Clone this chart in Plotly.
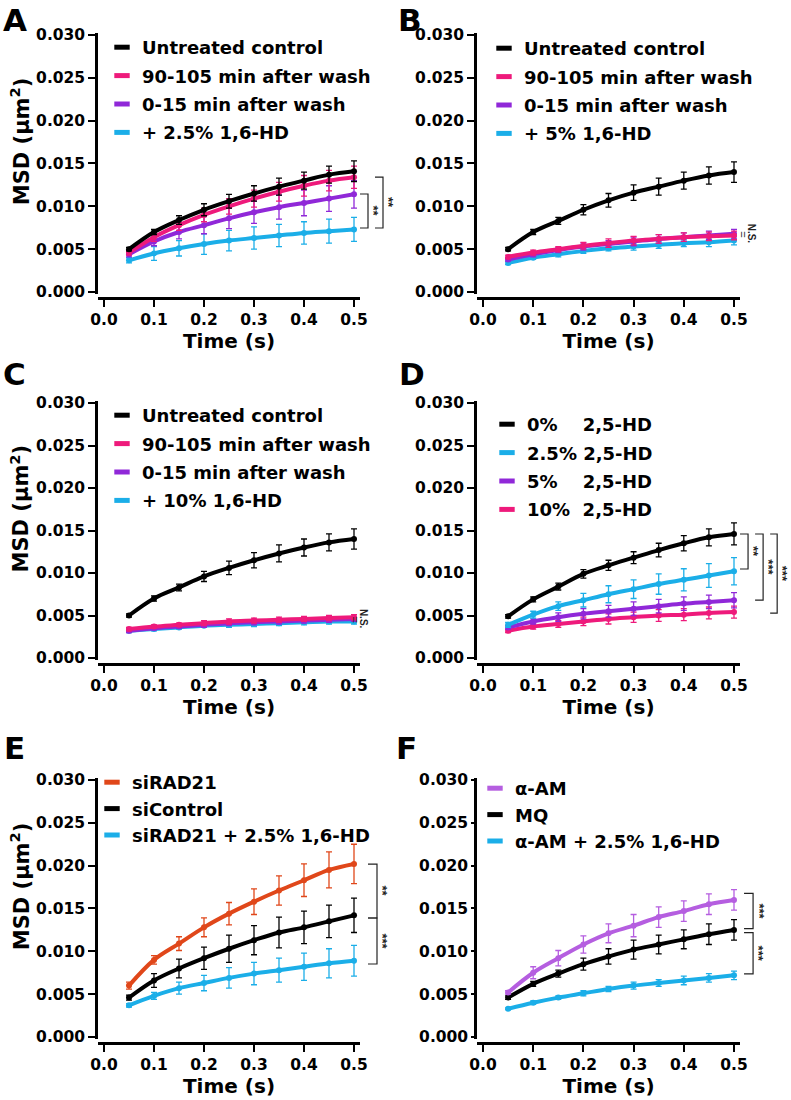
import plotly.graph_objects as go

W, H = 791, 1100
FONT = "DejaVu Sans"

# ─────────────────────────────────────────────────────────────────────────────
# DATA  (MSD in µm², mean ± error)
# ─────────────────────────────────────────────────────────────────────────────

t = [0.05, 0.10, 0.15, 0.20, 0.25, 0.30, 0.35, 0.40, 0.45, 0.50]
x_ticks = [0.0, 0.1, 0.2, 0.3, 0.4, 0.5]
y_ticks = [0.000, 0.005, 0.010, 0.015, 0.020, 0.025, 0.030]

BLACK, PINK, PURPLE = "#000000", "#EE1A7B", "#9028D8"
CYAN, ORANGE, LAVENDER = "#1BAEE8", "#E0471A", "#B55EE0"

# A — 2.5% 1,6-HD
a_untreated     = [0.0050, 0.0070, 0.0084, 0.0096, 0.0106, 0.0115, 0.0123, 0.0130, 0.0137, 0.0141]
a_untreated_err = [0.0002, 0.0003, 0.0005, 0.0007, 0.0008, 0.0009, 0.0010, 0.0010, 0.0010, 0.0012]
a_late          = [0.0046, 0.0064, 0.0078, 0.0090, 0.0100, 0.0109, 0.0117, 0.0124, 0.0130, 0.0134]
a_late_err      = [0.0003, 0.0005, 0.0006, 0.0008, 0.0009, 0.0010, 0.0011, 0.0012, 0.0012, 0.0013]
a_early         = [0.0044, 0.0059, 0.0070, 0.0078, 0.0086, 0.0093, 0.0099, 0.0104, 0.0109, 0.0114]
a_early_err     = [0.0003, 0.0005, 0.0008, 0.0010, 0.0012, 0.0013, 0.0014, 0.0015, 0.0015, 0.0016]
a_hd            = [0.0037, 0.0045, 0.0051, 0.0056, 0.0060, 0.0063, 0.0066, 0.0069, 0.0071, 0.0073]
a_hd_err        = [0.0003, 0.0008, 0.0009, 0.0012, 0.0012, 0.0013, 0.0013, 0.0013, 0.0014, 0.0014]

# B — 5% 1,6-HD
b_untreated     = [0.0050, 0.0070, 0.0083, 0.0096, 0.0107, 0.0116, 0.0123, 0.0130, 0.0136, 0.0140]
b_untreated_err = [0.0002, 0.0003, 0.0004, 0.0006, 0.0008, 0.0009, 0.0010, 0.0010, 0.0010, 0.0012]
b_late          = [0.0041, 0.0046, 0.0050, 0.0054, 0.0057, 0.0060, 0.0062, 0.0064, 0.0065, 0.0066]
b_late_err      = [0.0002, 0.0003, 0.0003, 0.0004, 0.0005, 0.0005, 0.0005, 0.0005, 0.0005, 0.0005]
b_early         = [0.0038, 0.0044, 0.0049, 0.0053, 0.0056, 0.0059, 0.0062, 0.0064, 0.0066, 0.0068]
b_early_err     = [0.0002, 0.0003, 0.0003, 0.0004, 0.0004, 0.0005, 0.0005, 0.0005, 0.0005, 0.0005]
b_hd            = [0.0034, 0.0040, 0.0044, 0.0048, 0.0051, 0.0053, 0.0055, 0.0057, 0.0058, 0.0060]
b_hd_err        = [0.0002, 0.0002, 0.0003, 0.0003, 0.0003, 0.0004, 0.0004, 0.0004, 0.0005, 0.0005]

# C — 10% 1,6-HD
c_untreated     = [0.0050, 0.0070, 0.0083, 0.0096, 0.0106, 0.0115, 0.0123, 0.0130, 0.0136, 0.0140]
c_untreated_err = [0.0002, 0.0003, 0.0004, 0.0006, 0.0008, 0.0009, 0.0010, 0.0010, 0.0010, 0.0012]
c_late          = [0.0034, 0.0037, 0.0039, 0.0041, 0.0043, 0.0044, 0.0045, 0.0046, 0.0047, 0.0048]
c_late_err      = [0.0002, 0.0002, 0.0002, 0.0003, 0.0003, 0.0003, 0.0003, 0.0003, 0.0003, 0.0003]
c_early         = [0.0032, 0.0035, 0.0037, 0.0039, 0.0041, 0.0042, 0.0043, 0.0044, 0.0045, 0.0046]
c_early_err     = [0.0002, 0.0002, 0.0002, 0.0003, 0.0003, 0.0003, 0.0003, 0.0003, 0.0003, 0.0003]
c_hd            = [0.0032, 0.0034, 0.0036, 0.0038, 0.0039, 0.0040, 0.0041, 0.0042, 0.0043, 0.0043]
c_hd_err        = [0.0002, 0.0002, 0.0002, 0.0002, 0.0003, 0.0003, 0.0003, 0.0003, 0.0003, 0.0003]

# D — 2,5-HD dose
d_0      = [0.0049, 0.0069, 0.0084, 0.0099, 0.0109, 0.0118, 0.0127, 0.0135, 0.0142, 0.0146]
d_0_err  = [0.0002, 0.0003, 0.0004, 0.0005, 0.0006, 0.0007, 0.0008, 0.0009, 0.0010, 0.0013]
d_25     = [0.0039, 0.0051, 0.0061, 0.0068, 0.0075, 0.0081, 0.0087, 0.0092, 0.0097, 0.0102]
d_25_err = [0.0003, 0.0004, 0.0005, 0.0008, 0.0010, 0.0011, 0.0012, 0.0013, 0.0014, 0.0016]
d_5      = [0.0036, 0.0043, 0.0048, 0.0052, 0.0055, 0.0058, 0.0061, 0.0064, 0.0066, 0.0068]
d_5_err  = [0.0002, 0.0003, 0.0005, 0.0006, 0.0007, 0.0008, 0.0008, 0.0008, 0.0008, 0.0009]
d_10     = [0.0032, 0.0037, 0.0040, 0.0043, 0.0046, 0.0048, 0.0050, 0.0051, 0.0053, 0.0054]
d_10_err = [0.0002, 0.0003, 0.0004, 0.0005, 0.0006, 0.0006, 0.0007, 0.0007, 0.0007, 0.0007]

# E — RAD21 knock-down
e_rad21     = [0.0060, 0.0090, 0.0109, 0.0128, 0.0144, 0.0158, 0.0171, 0.0183, 0.0195, 0.0202]
e_rad21_err = [0.0004, 0.0005, 0.0008, 0.0011, 0.0013, 0.0015, 0.0017, 0.0019, 0.0021, 0.0023]
e_ctrl      = [0.0046, 0.0066, 0.0080, 0.0092, 0.0103, 0.0113, 0.0122, 0.0128, 0.0135, 0.0142]
e_ctrl_err  = [0.0003, 0.0008, 0.0011, 0.0013, 0.0016, 0.0017, 0.0018, 0.0019, 0.0019, 0.0020]
e_hd        = [0.0037, 0.0048, 0.0057, 0.0063, 0.0069, 0.0074, 0.0078, 0.0082, 0.0086, 0.0089]
e_hd_err    = [0.0002, 0.0004, 0.0007, 0.0009, 0.0012, 0.0013, 0.0014, 0.0016, 0.0017, 0.0018]

# F — α-amanitin
f_aam     = [0.0052, 0.0075, 0.0092, 0.0108, 0.0121, 0.0130, 0.0140, 0.0147, 0.0155, 0.0160]
f_aam_err = [0.0002, 0.0007, 0.0009, 0.0010, 0.0011, 0.0013, 0.0012, 0.0012, 0.0012, 0.0012]
f_mq      = [0.0046, 0.0062, 0.0074, 0.0085, 0.0094, 0.0102, 0.0108, 0.0114, 0.0120, 0.0125]
f_mq_err  = [0.0002, 0.0003, 0.0004, 0.0007, 0.0009, 0.0011, 0.0011, 0.0011, 0.0012, 0.0012]
f_hd      = [0.0033, 0.0040, 0.0046, 0.0051, 0.0056, 0.0060, 0.0063, 0.0066, 0.0069, 0.0072]
f_hd_err  = [0.0001, 0.0002, 0.0002, 0.0003, 0.0003, 0.0004, 0.0004, 0.0005, 0.0005, 0.0005]

NBSP = "\u00a0"
panels = [
    dict(letter="A", series=[
        ("Untreated control", BLACK, a_untreated, a_untreated_err),
        ("90-105 min after wash", PINK, a_late, a_late_err),
        ("0-15 min after wash", PURPLE, a_early, a_early_err),
        ("+ 2.5% 1,6-HD", CYAN, a_hd, a_hd_err)],
        # (x of tick ends, x of bar, top, bottom, label)
        brackets=[(0.512, 0.528, 0.01144, 0.00747, "**"),
                  (0.542, 0.558, 0.01342, 0.00747, "**")],
        ns=None),
    dict(letter="B", series=[
        ("Untreated control", BLACK, b_untreated, b_untreated_err),
        ("90-105 min after wash", PINK, b_late, b_late_err),
        ("0-15 min after wash", PURPLE, b_early, b_early_err),
        ("+ 5% 1,6-HD", CYAN, b_hd, b_hd_err)],
        brackets=[], ns=(0.534, 0.0068)),
    dict(letter="C", series=[
        ("Untreated control", BLACK, c_untreated, c_untreated_err),
        ("90-105 min after wash", PINK, c_late, c_late_err),
        ("0-15 min after wash", PURPLE, c_early, c_early_err),
        ("+ 10% 1,6-HD", CYAN, c_hd, c_hd_err)],
        brackets=[], ns=(0.518, 0.0046)),
    dict(letter="D", series=[
        ("0%" + NBSP * 4 + "2,5-HD", BLACK, d_0, d_0_err),
        ("2.5% 2,5-HD", CYAN, d_25, d_25_err),
        ("5%" + NBSP * 4 + "2,5-HD", PURPLE, d_5, d_5_err),
        ("10%" + NBSP * 2 + "2,5-HD", PINK, d_10, d_10_err)],
        brackets=[(0.512, 0.528, 0.01459, 0.01047, "**"),
                  (0.542, 0.558, 0.01459, 0.00682, "***"),
                  (0.572, 0.586, 0.01459, 0.00529, "***")],
        ns=None),
    dict(letter="E", series=[
        ("siRAD21", ORANGE, e_rad21, e_rad21_err),
        ("siControl", BLACK, e_ctrl, e_ctrl_err),
        ("siRAD21 + 2.5% 1,6-HD", CYAN, e_hd, e_hd_err)],
        brackets=[(0.528, 0.546, 0.02019, 0.01389, "**"),
                  (0.528, 0.546, 0.01389, 0.00852, "***")],
        ns=None),
    dict(letter="F", series=[
        ("α-AM", LAVENDER, f_aam, f_aam_err),
        ("MQ", BLACK, f_mq, f_mq_err),
        ("α-AM + 2.5% 1,6-HD", CYAN, f_hd, f_hd_err)],
        brackets=[(0.520, 0.538, 0.01676, 0.01266, "***"),
                  (0.520, 0.538, 0.01219, 0.00738, "***")],
        ns=None),
]

# ─────────────────────────────────────────────────────────────────────────────
# GEOMETRY (pixels of the 791x1100 page)
# ─────────────────────────────────────────────────────────────────────────────

COL_X0 = [104, 483]            # px of t = 0
COL_SX = [500, 502]            # px per second
ROW_Y0 = [292, 658, 1037]      # px of MSD = 0
ROW_SY = [8567, 8500, 8567]    # px per µm²
XMIN, XMAX = -0.012, 0.512     # span of the drawn x axis line
YMIN, YMAX = -0.0002, 0.0302

# legend anchor (px of text start, px of first row centre)
LEGEND_POS = [(142, 47), (524, 48), (142, 415), (527, 424), (132, 782), (515, 788)]
# panel letters: (x centre, y centre); top row is pinned to the page top
LETTER_POS = [(15, None), (410, None), (14, 374), (412, 374), (14, 748), (407, 748)]


def px(x):
    return x / W


def py(y):
    return 1 - y / H


fig = go.Figure()
layout = {}
annotations = []
tick_font = dict(family=FONT, size=15.5, color="black", weight="bold")

for i, p in enumerate(panels):
    k = i + 1
    sfx = "" if k == 1 else str(k)
    col, row = i % 2, i // 2
    x0, sx, y0, sy = COL_X0[col], COL_SX[col], ROW_Y0[row], ROW_SY[row]
    xb = min(0.63, (W - 2 - x0) / sx)
    xname, yname, bname = f"x{sfx}", f"y{sfx}", f"x{k + 6}"
    leg = "legend" if k == 1 else f"legend{k}"

    x_dom = [px(x0 + XMIN * sx), px(x0 + XMAX * sx)]
    y_dom = [py(y0 - YMIN * sy), py(y0 - YMAX * sy)]

    layout[f"xaxis{sfx}"] = dict(
        domain=x_dom, range=[XMIN, XMAX], anchor="free", position=py(y0 + 6),
        automargin=False,
        showline=True, linewidth=2.5, linecolor="black", showgrid=False, zeroline=False,
        ticks="outside", ticklen=7, tickwidth=2, tickcolor="black",
        tickvals=x_ticks, tickformat=".1f", tickfont=tick_font,
        title=dict(text="Time (s)", standoff=2,
                   font=dict(family=FONT, size=20, color="black", weight="bold")),
    )
    layout[f"yaxis{sfx}"] = dict(
        domain=y_dom, range=[YMIN, YMAX], anchor=xname, automargin=False,
        showline=True, linewidth=2.5, linecolor="black", showgrid=False, zeroline=False,
        ticks="outside", ticklen=3 if k == 6 else 7, tickwidth=2, tickcolor="black",
        tickvals=y_ticks, tickformat=".3f", tickfont=tick_font,
    )
    # invisible axis with the same scale, wider, so brackets are not clipped
    layout[f"xaxis{k + 6}"] = dict(
        domain=[x_dom[0], px(x0 + xb * sx)], range=[XMIN, xb], anchor=yname,
        visible=False, automargin=False,
    )

    lx, ly = LEGEND_POS[i]
    layout[leg] = dict(
        x=px(lx - 40), y=py(ly - 18), xanchor="left", yanchor="top",
        bgcolor="rgba(0,0,0,0)", traceorder="grouped", tracegroupgap=2 if k <= 4 else 0,
        font=dict(family=FONT, size=18, color="black", weight="bold"),
    )

    for name, color, mean, err in p["series"][::-1]:
        fig.add_trace(go.Scatter(
            x=t, y=mean, mode="lines+markers", xaxis=xname, yaxis=yname,
            line=dict(color=color, width=4, shape="spline"),
            marker=dict(color=color, size=6),
            error_y=dict(type="data", array=err, color=color, thickness=1.3, width=3),
            showlegend=False, hoverinfo="skip",
        ))
    for name, color, mean, err in p["series"]:
        fig.add_trace(go.Scatter(
            x=[None], y=[None], mode="markers", xaxis=xname, yaxis=yname,
            marker=dict(symbol="line-ew-open", size=11, color=color,
                        line=dict(width=5, color=color)),
            name=name, legend=leg, legendgroup=f"{leg}-{name}",
        ))

    for xt, xv, top, bot, label in p["brackets"]:
        fig.add_trace(go.Scatter(
            x=[xt, xv, xv, xt], y=[top, top, bot, bot], mode="lines",
            xaxis=bname, yaxis=yname, line=dict(color="#222222", width=1.2),
            showlegend=False, hoverinfo="skip",
        ))
        annotations.append(dict(
            x=xv + 0.011, y=(top + bot) / 2, xref=bname, yref=yname, text=label,
            textangle=90, showarrow=False,
            font=dict(family="Liberation Sans", size=13, color="#222222", weight="bold"),
        ))
    if p["ns"]:
        nx, ny = p["ns"]
        annotations.append(dict(
            x=nx, y=ny, xref=bname, yref=yname, text="N.S.", textangle=90, showarrow=False,
            font=dict(family="Liberation Sans", size=10, color="#222222", weight="bold"),
        ))
        annotations.append(dict(
            x=nx - 0.015, y=ny, xref=bname, yref=yname, text="=", textangle=90, showarrow=False,
            font=dict(family="Liberation Sans", size=11, color="#222222"),
        ))

    if col == 0:
        annotations.append(dict(
            x=px(20), y=0.0176, xref="paper", yref=yname, text="MSD (μm<sup>2</sup>)",
            textangle=-90, showarrow=False, xanchor="center", yanchor="middle",
            font=dict(family=FONT, size=21, color="black", weight="bold"),
        ))
    ax_, ay_ = LETTER_POS[i]
    annotations.append(dict(
        x=px(ax_), y=1 if ay_ is None else py(ay_), xref="paper", yref="paper",
        text=p["letter"], showarrow=False, xanchor="center",
        yanchor="top" if ay_ is None else "middle",
        font=dict(family=FONT, size=31, color="black", weight="bold"),
    ))

fig.update_layout(
    width=W, height=H, margin=dict(l=0, r=0, t=0, b=0, autoexpand=False),
    paper_bgcolor="white", plot_bgcolor="rgba(0,0,0,0)",
    annotations=annotations, **layout,
)
# the page's default 8px body margin would shift the whole figure
fig.write_html("out.html", config={"displayModeBar": False},
               post_script="document.body.style.margin = '0';")
